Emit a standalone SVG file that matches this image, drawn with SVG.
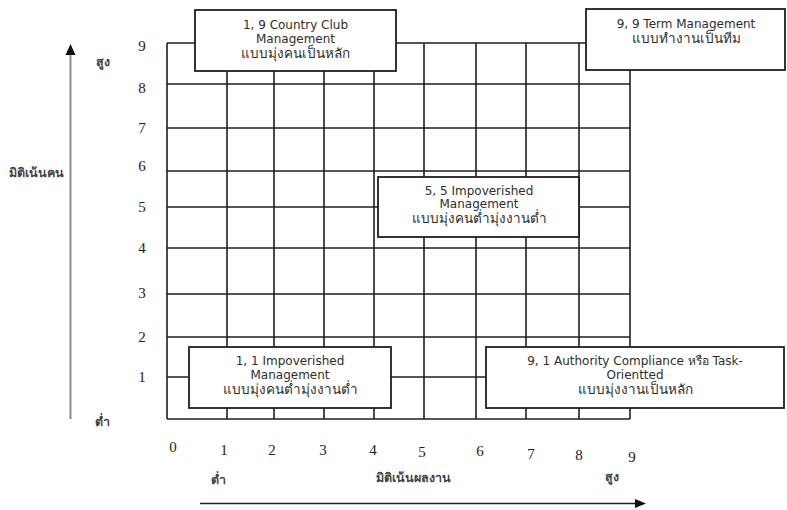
<svg xmlns="http://www.w3.org/2000/svg" width="787" height="510" viewBox="0 0 787 510">
<style>
.grid line{stroke:#1e1e1e;stroke-width:1.6}
.box{fill:#fff;stroke:#1e1e1e;stroke-width:1.8}
.bt{font-family:"DejaVu Sans","Noto Sans",Tahoma,sans-serif;font-size:12px;fill:#2e2e2e;text-anchor:middle}
.th{font-size:13.5px}
.num{font-family:"Liberation Serif","Times New Roman",serif;font-size:15px;fill:#222;text-anchor:middle}
.ax{font-family:"DejaVu Sans","Noto Sans",Tahoma,sans-serif;font-size:12.5px;fill:#444;font-weight:bold;text-anchor:middle}
</style>
<rect width="787" height="510" fill="#fff"/>
<g id="grid" class="grid">
<line x1="167" y1="43" x2="630" y2="43"/>
<line x1="167" y1="84" x2="630" y2="84"/>
<line x1="167" y1="128" x2="630" y2="128"/>
<line x1="167" y1="171" x2="630" y2="171"/>
<line x1="167" y1="207" x2="630" y2="207"/>
<line x1="167" y1="248" x2="630" y2="248"/>
<line x1="167" y1="294" x2="630" y2="294"/>
<line x1="167" y1="337" x2="630" y2="337"/>
<line x1="167" y1="377" x2="630" y2="377"/>
<line x1="167" y1="419" x2="630" y2="419"/>
<line x1="167" y1="43" x2="167" y2="419"/>
<line x1="227" y1="43" x2="227" y2="419"/>
<line x1="274" y1="43" x2="274" y2="419"/>
<line x1="324" y1="43" x2="324" y2="419"/>
<line x1="374" y1="43" x2="374" y2="419"/>
<line x1="424" y1="43" x2="424" y2="419"/>
<line x1="476" y1="43" x2="476" y2="419"/>
<line x1="526" y1="43" x2="526" y2="419"/>
<line x1="579" y1="43" x2="579" y2="419"/>
<line x1="630" y1="43" x2="630" y2="419"/>
</g>
<g id="connectors">
<line x1="70.5" y1="419" x2="70.5" y2="52" stroke="#8a8a8a" stroke-width="2"/>
<polygon points="70.5,44 65.5,55 75.5,55" fill="#111"/>
<line x1="200" y1="503.5" x2="637" y2="503.5" stroke="#222" stroke-width="1.6"/>
<polygon points="646,503.5 635,499 635,508" fill="#111"/>
</g>
<g id="node-1-9">
<rect class="box" x="195" y="10" width="201" height="61"/>
<text class="bt" x="295.5" y="29">1, 9 Country Club</text>
<text class="bt" x="295.5" y="43">Management</text>
<text class="bt th" x="295.5" y="58">แบบมุ่งคนเป็นหลัก</text>
</g>
<g id="node-9-9">
<rect class="box" x="586" y="9" width="199" height="61"/>
<text class="bt" x="686" y="28">9, 9 Term Management</text>
<text class="bt th" x="686" y="43">แบบทำงานเป็นทีม</text>
</g>
<g id="node-5-5">
<rect class="box" x="378" y="177" width="201" height="60"/>
<text class="bt" x="479" y="195">5, 5 Impoverished</text>
<text class="bt" x="479" y="208">Management</text>
<text class="bt th" x="479" y="223">แบบมุ่งคนต่ำมุ่งงานต่ำ</text>
</g>
<g id="node-1-1">
<rect class="box" x="189" y="347" width="202" height="61"/>
<text class="bt" x="290" y="365">1, 1 Impoverished</text>
<text class="bt" x="290" y="379">Management</text>
<text class="bt th" x="290" y="394">แบบมุ่งคนต่ำมุ่งงานต่ำ</text>
</g>
<g id="node-9-1">
<rect class="box" x="486" y="347" width="298" height="61"/>
<text class="bt" x="635" y="365">9, 1 Authority Compliance หรือ Task-</text>
<text class="bt" x="635" y="379">Orientted</text>
<text class="bt th" x="635" y="394">แบบมุ่งงานเป็นหลัก</text>
</g>
<g id="y-numbers" class="num">
<text x="142" y="51">9</text>
<text x="142" y="93">8</text>
<text x="142" y="133">7</text>
<text x="142" y="171">6</text>
<text x="142" y="212">5</text>
<text x="142" y="253">4</text>
<text x="142" y="298">3</text>
<text x="142" y="342">2</text>
<text x="142" y="382">1</text>
</g>
<g id="x-numbers" class="num">
<text x="173" y="452">0</text>
<text x="224" y="455">1</text>
<text x="272" y="455">2</text>
<text x="323" y="455">3</text>
<text x="373" y="455">4</text>
<text x="422" y="457">5</text>
<text x="480" y="456">6</text>
<text x="531" y="459">7</text>
<text x="579" y="460">8</text>
<text x="632" y="462">9</text>
</g>
<g id="axis-labels" class="ax">
<text x="103" y="66">สูง</text>
<text x="36" y="177">มิติเน้นคน</text>
<text x="102" y="426">ต่ำ</text>
<text x="218" y="484">ต่ำ</text>
<text x="413" y="482">มิติเน้นผลงาน</text>
<text x="612" y="481">สูง</text>
</g>
</svg>
